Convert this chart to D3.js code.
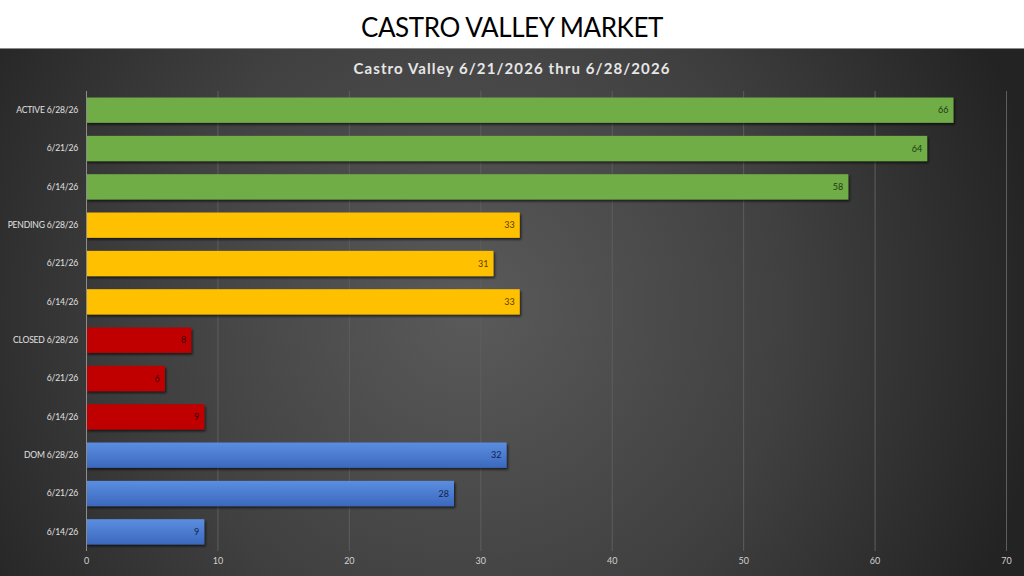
<!DOCTYPE html>
<html>
<head>
<meta charset="utf-8">
<script src="https://cdn.jsdelivr.net/npm/d3@7"></script>
<style>
  html, body { margin: 0; padding: 0; background: #fff; }
  svg { display: block; }
</style>
</head>
<body>
<div id="chart"></div>
<script>
// Castro Valley market — weekly snapshot, horizontal bars

const categories = [
  'ACTIVE 6/28/26', '6/21/26', '6/14/26',
  'PENDING 6/28/26', '6/21/26 ', '6/14/26 ',
  'CLOSED 6/28/26', '6/21/26  ', '6/14/26  ',
  'DOM 6/28/26', '6/21/26   ', '6/14/26   '
];
const values = [66, 64, 58, 33, 31, 33, 8, 6, 9, 32, 28, 9];
const groups = ['active', 'active', 'active', 'pending', 'pending', 'pending',
  'closed', 'closed', 'closed', 'dom', 'dom', 'dom'];
const xTicks = [0, 10, 20, 30, 40, 50, 60, 70];

const fills = { active: '#70ad47', pending: '#ffc000', closed: '#c00000', dom: '#4472c4' };
const labelInk = { active: '#1f3a12', pending: '#5a4000', closed: '#3a0000', dom: '#0f2350' };

const width = 1024;
const height = 576;
const font = 'Lato, "Open Sans", sans-serif';

const svg = d3.select('#chart')
  .append('svg')
  .attr('width', width)
  .attr('height', height);

const defs = svg.append('defs');

// dark backdrop, lighter towards the middle
const bg = defs.append('radialGradient')
  .attr('id', 'bg')
  .attr('gradientUnits', 'userSpaceOnUse')
  .attr('cx', 470).attr('cy', 310).attr('r', 580);
bg.append('stop').attr('offset', '0%').attr('stop-color', '#5a5a5a');
bg.append('stop').attr('offset', '55%').attr('stop-color', '#404040');
bg.append('stop').attr('offset', '100%').attr('stop-color', '#232323');

// blue bars are shaded top to bottom
const blue = defs.append('linearGradient')
  .attr('id', 'blueFill')
  .attr('x1', 0).attr('y1', 0).attr('x2', 0).attr('y2', 1);
blue.append('stop').attr('offset', '0%').attr('stop-color', '#5b8ee0');
blue.append('stop').attr('offset', '100%').attr('stop-color', '#3b68bd');

const shadow = defs.append('filter')
  .attr('id', 'shadow')
  .attr('x', '-5%').attr('y', '-20%').attr('width', '110%').attr('height', '160%');
shadow.append('feDropShadow')
  .attr('dx', 1.5).attr('dy', 2).attr('stdDeviation', 1.2)
  .attr('flood-color', '#000').attr('flood-opacity', 0.6);

// header
svg.append('rect')
  .attr('width', width).attr('height', 48)
  .attr('fill', '#fff');

svg.append('text')
  .attr('x', width / 2).attr('y', 37)
  .attr('text-anchor', 'middle')
  .attr('fill', '#000')
  .attr('font-size', '26px')
  .attr('letter-spacing', '-0.4px')
  .attr('font-family', font)
  .text('CASTRO VALLEY MARKET');

svg.append('rect')
  .attr('y', 48).attr('width', width).attr('height', height - 48)
  .attr('fill', 'url(#bg)');

svg.append('line')
  .attr('x1', 0).attr('x2', width)
  .attr('y1', 48.5).attr('y2', 48.5)
  .attr('stroke', '#8a8a8a')
  .attr('stroke-width', 1);

svg.append('text')
  .attr('x', width / 2).attr('y', 74)
  .attr('text-anchor', 'middle')
  .attr('fill', '#e6e6e6')
  .attr('font-size', '15px')
  .attr('font-weight', 700)
  .attr('font-family', font)
  .attr('letter-spacing', '1.1px')
  .text('Castro Valley 6/21/2026 thru 6/28/2026');

// plot area
const plotLeft = 86, plotRight = 1006, plotTop = 91, plotBottom = 551;

const x = d3.scaleLinear().domain([0, 70]).range([plotLeft, plotRight]);
const y = d3.scaleBand()
  .domain(categories)
  .range([plotTop, plotBottom])
  .paddingInner(0.34)
  .paddingOuter(0.17);

// gridlines
svg.append('g')
  .selectAll('line')
  .data(xTicks.slice(1))
  .join('line')
  .attr('x1', d => x(d) + 0.5).attr('x2', d => x(d) + 0.5)
  .attr('y1', plotTop).attr('y2', plotBottom)
  .attr('stroke', '#5e5e5e')
  .attr('stroke-width', 1);

// x axis labels
const xAxis = svg.append('g')
  .attr('transform', `translate(0,${plotBottom})`)
  .call(d3.axisBottom(x).tickValues(xTicks).tickSize(0).tickPadding(7));
xAxis.select('.domain').remove();
xAxis.selectAll('text')
  .attr('fill', '#d0d0d0')
  .attr('font-size', '9px')
  .attr('font-family', font);

// y axis labels
const yAxis = svg.append('g')
  .attr('transform', `translate(${plotLeft},0)`)
  .call(d3.axisLeft(y).tickSize(0).tickPadding(8));
yAxis.select('.domain').remove();
yAxis.selectAll('text')
  .attr('fill', '#e0e0e0')
  .attr('font-size', '8.6px')
  .attr('letter-spacing', '-0.2px')
  .attr('font-family', font)
  .text(d => d.trim());

// bars
svg.append('g')
  .selectAll('rect')
  .data(values)
  .join('rect')
  .attr('x', x(0))
  .attr('y', (d, i) => y(categories[i]))
  .attr('width', d => x(d) - x(0))
  .attr('height', y.bandwidth())
  .attr('fill', (d, i) => groups[i] === 'dom' ? 'url(#blueFill)' : fills[groups[i]])
  .attr('filter', 'url(#shadow)');

// value axis line at zero
svg.append('line')
  .attr('x1', x(0) + 0.5).attr('x2', x(0) + 0.5)
  .attr('y1', plotTop).attr('y2', plotBottom)
  .attr('stroke', '#8c8c8c')
  .attr('stroke-width', 1);

// data labels, inside end
svg.append('g')
  .selectAll('text')
  .data(values)
  .join('text')
  .attr('x', d => x(d) - 5)
  .attr('y', (d, i) => y(categories[i]) + y.bandwidth() / 2)
  .attr('dy', '0.35em')
  .attr('text-anchor', 'end')
  .attr('fill', (d, i) => labelInk[groups[i]])
  .attr('font-size', '9px')
  .attr('font-family', font)
  .text(d => d);
</script>
</body>
</html>
